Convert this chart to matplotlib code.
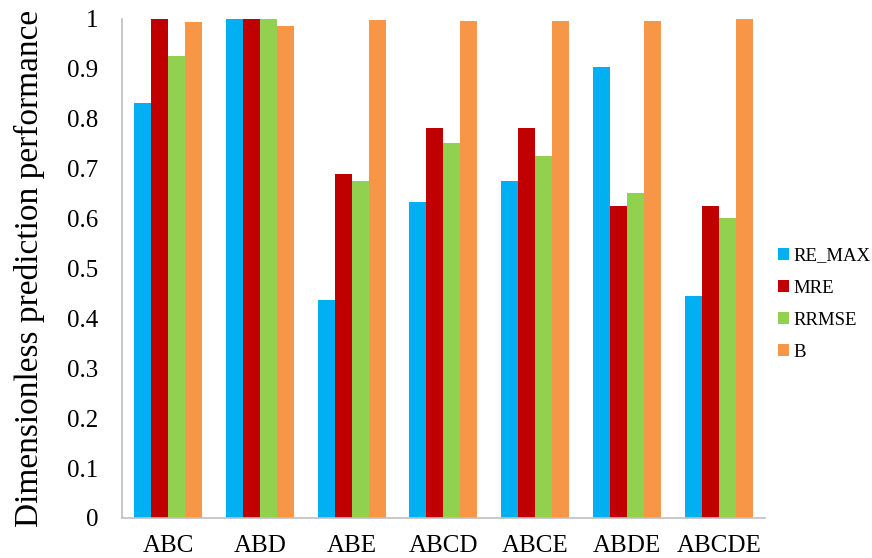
import numpy as np
import matplotlib.pyplot as plt

plt.rcParams['font.family'] = ['Liberation Serif', 'DejaVu Serif']

categories = ['ABC', 'ABD', 'ABE', 'ABCD', 'ABCE', 'ABDE', 'ABCDE']
re_max = [0.832, 1.0, 0.437, 0.633, 0.675, 0.904, 0.445]
mre = [1.0, 1.0, 0.689, 0.782, 0.782, 0.625, 0.625]
rrmse = [0.926, 1.0, 0.676, 0.751, 0.725, 0.651, 0.601]
b = [0.994, 0.985, 0.997, 0.996, 0.996, 0.996, 1.0]

series = [('RE_MAX', re_max, '#00b0f0'),
          ('MRE', mre, '#c00000'),
          ('RRMSE', rrmse, '#92d050'),
          ('B', b, '#f79646')]

fig = plt.figure(figsize=(8.72, 5.58), dpi=100)
ax = fig.add_axes([0.140, 0.0717, 0.737, 0.8943])

x = np.arange(len(categories))
w = 0.185
for i, (name, vals, col) in enumerate(series):
    ax.bar(x + (i - 1.5) * w, vals, w, color=col, label=name)

ax.set_xlim(-0.5, len(categories) - 0.5)
ax.set_ylim(0, 1)
ax.set_yticks(np.arange(0, 1.01, 0.1))
ax.set_yticklabels(['0'] + ['%.1f' % v for v in np.arange(0.1, 0.95, 0.1)] + ['1'])
ax.set_xticks(x)
ax.set_xticklabels(categories)
ax.tick_params(axis='both', length=0, labelsize=18)
ax.tick_params(axis='y', pad=17)
ax.tick_params(axis='x', pad=12)
ax.set_ylabel('Dimensionless prediction performance', fontsize=24, labelpad=16)

for s in ['top', 'right']:
    ax.spines[s].set_visible(False)
for s in ['left', 'bottom']:
    ax.spines[s].set_color('#bfbfbf')
    ax.spines[s].set_linewidth(1.2)

fig.legend(loc='center left', bbox_to_anchor=(0.892, 0.455), frameon=False,
           fontsize=13.5, handlelength=0.6, handleheight=0.6, handletextpad=0.25,
           labelspacing=0.8, borderpad=0, borderaxespad=0)

fig.savefig('out.png', dpi=100)
